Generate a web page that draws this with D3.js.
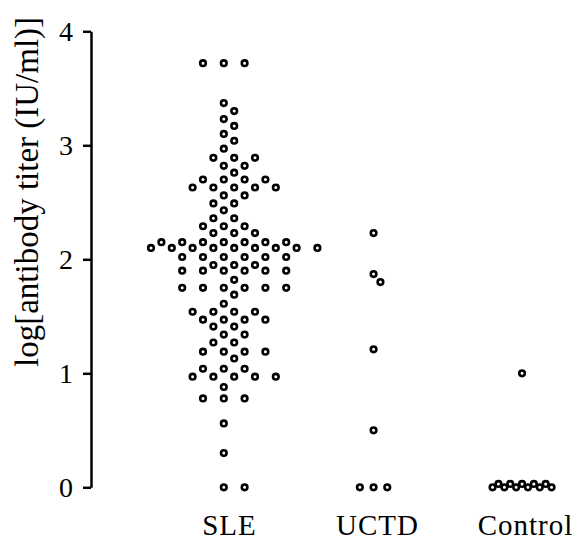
<!DOCTYPE html>
<html>
<head>
<meta charset="utf-8">
<script src="https://cdn.jsdelivr.net/npm/d3@7"></script>
<style>
  html, body { margin: 0; padding: 0; background: #fff; }
  svg { display: block; }
</style>
</head>
<body>
<div id="chart"></div>
<script>
'use strict';

var categories = ['SLE', 'UCTD', 'Control'];
var yTicks = [0, 1, 2, 3, 4];

// log titer per subject (ties share a row)
var sleValues = [
  3.72, 3.72, 3.72,
  3.37, 3.30, 3.23, 3.17, 3.10, 3.04, 2.97,
  2.89, 2.89, 2.89,
  2.82, 2.82,
  2.76,
  2.70, 2.70, 2.70, 2.70,
  2.63, 2.63, 2.63, 2.63, 2.63,
  2.56, 2.56,
  2.49, 2.49,
  2.43,
  2.36, 2.36,
  2.29, 2.29, 2.29,
  2.23, 2.23, 2.23,
  2.15, 2.15, 2.15, 2.15, 2.15, 2.15, 2.15,
  2.10, 2.10, 2.10, 2.10, 2.10, 2.10, 2.10, 2.10, 2.10,
  2.02, 2.02, 2.02, 2.02, 2.02, 2.02,
  1.95, 1.95, 1.95,
  1.90, 1.90, 1.90, 1.90, 1.90, 1.90,
  1.82,
  1.75, 1.75, 1.75, 1.75, 1.75, 1.75,
  1.69,
  1.61,
  1.54, 1.54, 1.54, 1.54,
  1.47, 1.47, 1.47, 1.47,
  1.41, 1.41,
  1.34, 1.34,
  1.27, 1.27,
  1.19, 1.19, 1.19, 1.19,
  1.13,
  1.04, 1.04, 1.04,
  0.97, 0.97, 0.97, 0.97, 0.97,
  0.88,
  0.78, 0.78, 0.78,
  0.56,
  0.30,
  0, 0
];
var uctdValues = [2.23, 1.87, 1.80, 1.21, 0.50, 0, 0, 0];
var controlValues = [1.00, 0.03, 0.03, 0.03, 0.03, 0.03, 0, 0, 0, 0, 0, 0];

var width = 572, height = 542;
var axisX = 91;
var dotR = 2.8;

var svg = d3.select('#chart').append('svg')
  .attr('width', width)
  .attr('height', height)
  .style('font-family', '"Liberation Serif", "Times New Roman", serif');

var y = d3.scaleLinear().domain([0, 4]).range([487.3, 31.3]);
var x = d3.scalePoint().domain(categories).range([229, 525]);

// horizontal spread of tied values per group
var groups = [
  { name: 'SLE', values: sleValues, step: 10.4 },
  { name: 'UCTD', values: uctdValues, step: 6.85 },
  { name: 'Control', values: controlValues, step: 5.9 }
];

// rows of tied values, spread sideways; rows that nearly touch the one
// above get mirrored so they interlock
function swarm(values, step) {
  var rows = d3.groups(values, function(d) { return d; })
    .sort(function(a, b) { return b[0] - a[0]; });
  var out = [];
  var flip = false;
  var prevY = null;
  rows.forEach(function(row) {
    var v = row[0];
    var n = row[1].length;
    var py = y(v);
    flip = (prevY !== null && Math.abs(py - prevY) < 10) ? !flip : false;
    prevY = py;
    var first = Math.floor((n - 1) / 2);
    for (var j = 0; j < n; j++) {
      var off = (-0.5 + 2 * (j - first)) * step;
      out.push({ value: v, dx: flip ? -off : off });
    }
  });
  return out;
}

groups.forEach(function(g) {
  svg.append('g')
    .selectAll('circle')
    .data(swarm(g.values, g.step))
    .enter().append('circle')
    .attr('cx', function(d) { return x(g.name) + d.dx; })
    .attr('cy', function(d) { return y(d.value); })
    .attr('r', dotR)
    .attr('fill', '#fff')
    .attr('stroke', '#000')
    .attr('stroke-width', 2.6);
});

var yAxis = d3.axisLeft(y)
  .tickValues(yTicks)
  .tickFormat(d3.format('d'))
  .tickSize(8)
  .tickSizeOuter(0)
  .tickPadding(10);

var gy = svg.append('g')
  .attr('transform', 'translate(' + axisX + ',0)')
  .call(yAxis);
gy.attr('font-family', null);
gy.select('.domain').attr('stroke', '#000').attr('stroke-width', 2.5);
gy.selectAll('.tick line').attr('stroke', '#000').attr('stroke-width', 2.5);
gy.selectAll('.tick text')
  .attr('fill', '#000')
  .attr('font-size', 28);

var xAxis = d3.axisBottom(x).tickSize(0).tickPadding(0);
var gx = svg.append('g')
  .attr('transform', 'translate(0,514.4)')
  .call(xAxis);
gx.attr('font-family', null);
gx.select('.domain').remove();
gx.selectAll('.tick text')
  .attr('fill', '#000')
  .attr('font-size', 29)
  .attr('letter-spacing', 1);

svg.append('text')
  .attr('transform', 'translate(37.5,367) rotate(-90)')
  .attr('text-anchor', 'start')
  .attr('font-size', 33)
  .attr('fill', '#000')
  .text('log[antibody titer (IU/ml)]');
</script>
</body>
</html>
